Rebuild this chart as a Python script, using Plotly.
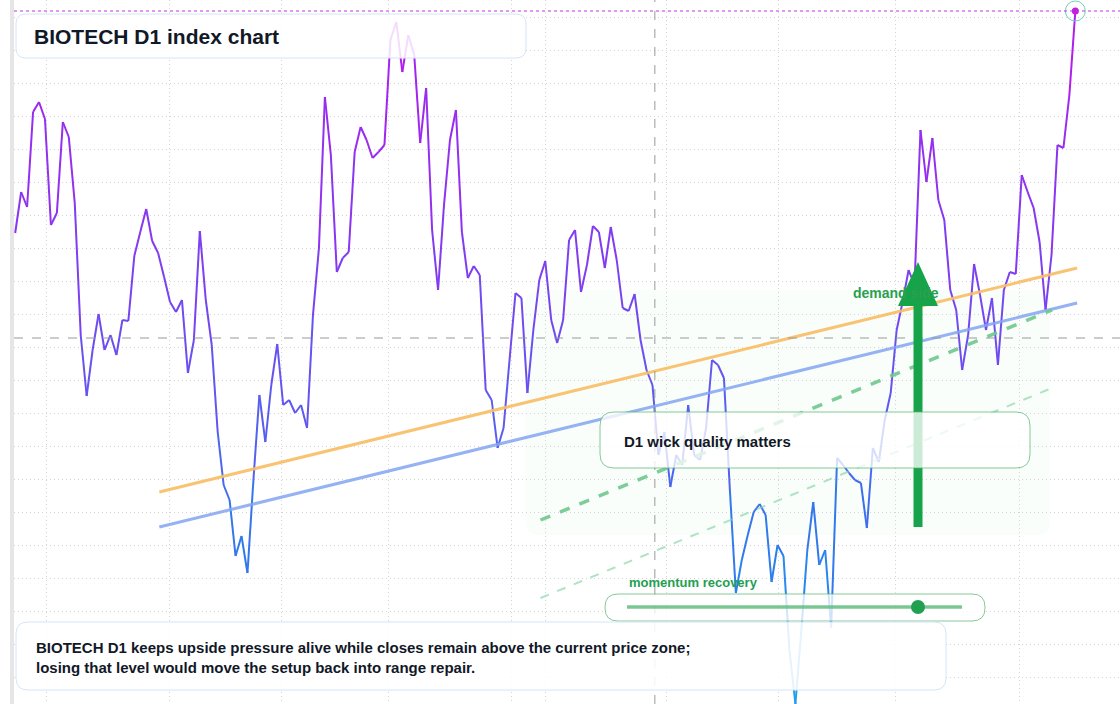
import plotly.graph_objects as go

W, H = 1120, 704
L = 14

# index level (arbitrary units), one value per session
level = [471, 512, 497, 592, 602, 585, 479, 491, 582, 567, 501,
         369, 308, 354, 390, 354, 369, 349, 384, 383, 448, 472, 495, 463, 451, 427, 402, 392, 404,
         331, 364, 473, 404, 359, 272, 219, 204, 148, 168, 131, 224, 309, 262, 319, 360, 299, 304,
         291, 299, 276, 389, 456, 607, 549, 432, 446, 452, 552, 577, 564, 546, 552, 559, 664, 682,
         632, 669, 649, 561, 616, 474, 414, 499, 564, 594, 472, 426, 438, 429, 314, 304, 256, 276,
         344, 411, 406, 311, 374, 424, 443, 384, 361, 384, 464, 474, 412, 439, 478, 472, 436, 477,
         444, 396, 393, 410, 364, 334, 319, 249, 272, 217, 249, 239, 299, 249, 244, 276, 344, 339,
         326, 214, 111, 144, 169, 192, 200, 189, 122, 159, 148, 54, 0, 74, 154, 202, 139, 154, 76,
         246, 239, 231, 224, 221, 176, 256, 242, 284, 311, 374, 402, 434, 419, 574, 522, 566, 504,
         484, 414, 394, 334, 369, 440, 409, 374, 406, 339, 414, 432, 430, 529, 512, 496, 462, 394,
         449, 559, 556, 609, 693]
x = list(range(len(level)))

# guide lines: (start index, start level, end index, end level)
resist = (24.2, 212, 178.3, 436)
support = (24.2, 177, 178.3, 401)
channel_hi = (88.2, 184, 174.1, 394)
channel_lo = (88.2, 106, 174.1, 316)

grid_x = [5.2, 25.9, 44.7, 62.6, 83.3, 89, 109.3, 128.1, 147.8, 168.6]

title = "BIOTECH D1 index chart"
note = ("BIOTECH D1 keeps upside pressure alive while closes remain above the current price zone;<br>"
        "losing that level would move the setup back into range repair.")
callout = "D1 wick quality matters"
gauge_label = "momentum recovery"
zone_label = "demand side"

fig = go.Figure()

stops = [(0, (30, 170, 240)), (150, (45, 125, 235)), (300, (95, 90, 240)),
         (450, (130, 60, 240)), (600, (160, 40, 240)), (704, (195, 20, 230))]
def col(v):
    for (a, ca), (b, cb) in zip(stops, stops[1:]):
        if v <= b:
            t = (v - a) / (b - a)
            return "rgb(%d,%d,%d)" % tuple(int(ca[k] + (cb[k] - ca[k]) * t) for k in range(3))
    return "rgb(195,20,230)"
for i in range(len(level) - 1):
    fig.add_trace(go.Scatter(x=[x[i], x[i + 1]], y=[level[i], level[i + 1]], mode="lines",
                             line=dict(color=col((level[i] + level[i + 1]) / 2), width=2),
                             hoverinfo="skip", showlegend=False))

def seg(s, color, width, dash="solid"):
    fig.add_trace(go.Scatter(x=[s[0], s[2]], y=[s[1], s[3]], mode="lines",
                             line=dict(color=color, width=width, dash=dash), showlegend=False))
seg(resist, "rgba(247,190,100,0.9)", 3)
seg(support, "rgba(130,165,240,0.85)", 3)
seg(channel_hi, "rgba(110,200,140,0.9)", 3.5, "dash")
seg(channel_lo, "rgba(140,215,170,0.7)", 2, "dash")

fig.add_trace(go.Scatter(x=[x[-1]], y=[level[-1]], mode="markers",
                         marker=dict(size=20, color="rgba(0,0,0,0)", line=dict(color="#6fd0c0", width=1)),
                         showlegend=False))
fig.add_trace(go.Scatter(x=[x[-1]], y=[level[-1]], mode="markers",
                         marker=dict(size=7, color="#c020e0"), showlegend=False))

def px(v): return (v - L) / (W - L)
def py(v): return 1 - v / H
def rrect(x0, y0, x1, y1, r, fill, line, lw=1, layer="above"):
    X0, X1, Y0, Y1, rx, ry = px(x0), px(x1), py(y1), py(y0), r / (W - L), r / H
    path = (f"M{X0+rx},{Y0} L{X1-rx},{Y0} Q{X1},{Y0} {X1},{Y0+ry} L{X1},{Y1-ry} Q{X1},{Y1} {X1-rx},{Y1} "
            f"L{X0+rx},{Y1} Q{X0},{Y1} {X0},{Y1-ry} L{X0},{Y0+ry} Q{X0},{Y0} {X0+rx},{Y0} Z")
    return dict(type="path", xref="paper", yref="paper", path=path, fillcolor=fill,
                line=dict(color=line, width=lw), layer=layer)

shapes = [
    dict(type="rect", xref="paper", yref="paper", x0=px(10), x1=px(14), y0=0, y1=1,
         fillcolor="#e6e6e6", line=dict(width=0), layer="below"),
    rrect(525, 290, 1050, 535, 14, "rgba(220,245,228,0.15)", "rgba(0,0,0,0)", 0, "below"),
    dict(type="line", xref="x", yref="paper", x0=107.4, x1=107.4, y0=0, y1=1,
         line=dict(color="#999", width=1, dash="dash")),
    dict(type="line", xref="paper", yref="y", x0=0, x1=1, y0=366, y1=366,
         line=dict(color="#999", width=1, dash="dash")),
    dict(type="line", xref="paper", yref="y", x0=0, x1=1, y0=level[-1], y1=level[-1],
         line=dict(color="#c030e0", width=1, dash="dot")),
    dict(type="line", xref="paper", yref="paper", x0=px(918), x1=px(918), y0=py(527), y1=py(300),
         line=dict(color="#16a34a", width=9)),
    dict(type="path", xref="paper", yref="paper",
         path=f"M{px(898)},{py(306)} L{px(938)},{py(306)} L{px(918)},{py(262)} Z",
         fillcolor="#16a34a", line=dict(width=0)),
    rrect(16, 14, 526, 58, 10, "rgba(255,255,255,0.85)", "#d6e4f7"),
    rrect(600, 412, 1030, 468, 14, "rgba(255,255,255,0.78)", "rgba(80,180,110,0.7)"),
    rrect(605, 594, 985, 621, 13, "rgba(255,255,255,0.78)", "rgba(80,180,110,0.7)"),
    dict(type="line", xref="paper", yref="paper", x0=px(627), x1=px(962), y0=py(607), y1=py(607),
         line=dict(color="rgba(90,185,120,0.8)", width=3.5)),
    dict(type="circle", xref="paper", yref="paper", x0=px(911), x1=px(925), y0=py(614), y1=py(600),
         fillcolor="#22a052", line=dict(width=0)),
    rrect(16, 622, 946, 690, 12, "rgba(255,255,255,0.88)", "#d6e4f7"),
]

ann = [
    dict(text="<b>%s</b>" % zone_label, x=px(851), y=py(293), xanchor="left", yanchor="middle",
         font=dict(size=14, color="#2aa04f")),
    dict(text="<b>%s</b>" % title, x=px(32), y=py(36), xanchor="left", yanchor="middle",
         font=dict(size=21, color="#111827")),
    dict(text="<b>%s</b>" % callout, x=px(622), y=py(441), xanchor="left", yanchor="middle",
         font=dict(size=15, color="#111827")),
    dict(text="<b>%s</b>" % gauge_label, x=px(627), y=py(582), xanchor="left", yanchor="middle",
         font=dict(size=13, color="#22a052")),
    dict(text="<b>%s</b>" % note, x=px(34), y=py(657), xanchor="left", yanchor="middle", align="left",
         font=dict(size=15, color="#111827")),
]
for a in ann:
    a.update(xref="paper", yref="paper", showarrow=False)
    a["font"]["family"] = "Liberation Sans, Arial"

fig.update_layout(
    width=W, height=H, margin=dict(l=L, r=0, t=0, b=0),
    paper_bgcolor="white", plot_bgcolor="white",
    shapes=shapes, annotations=ann,
    xaxis=dict(range=[-0.2, 185.5], showticklabels=False, tickvals=grid_x, showgrid=True,
               gridcolor="#d4d4d4", griddash="1px,3px", zeroline=False, showline=False),
    yaxis=dict(range=[0, 704], showticklabels=False, tick0=654, dtick=33, showgrid=True,
               gridcolor="#d4d4d4", griddash="1px,3px", zeroline=False, showline=False),
)
fig.write_html("out.html", config={"displayModeBar": False},
               post_script="document.body.style.margin='0';")
